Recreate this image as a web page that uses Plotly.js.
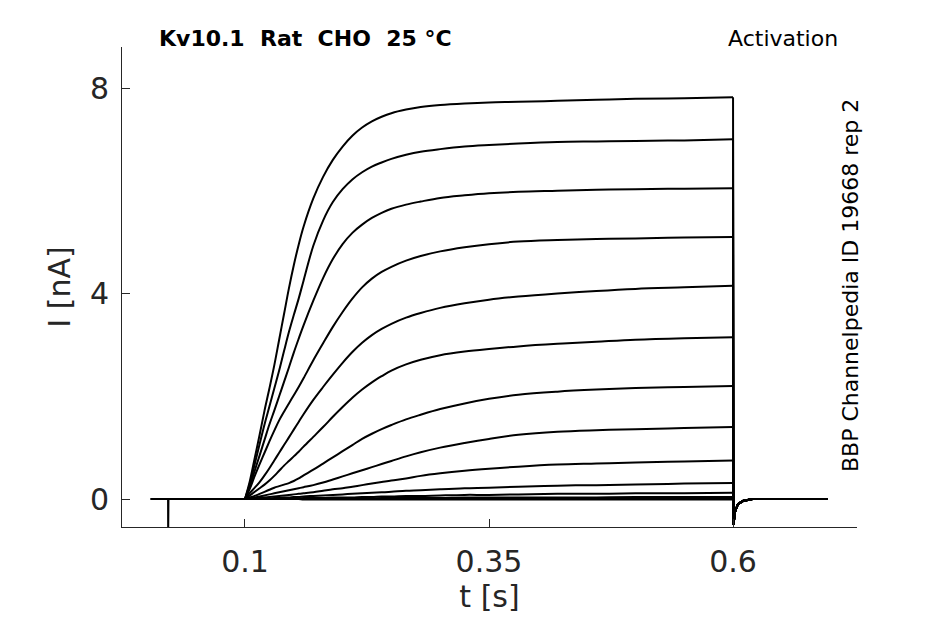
<!DOCTYPE html>
<html>
<head>
<meta charset="utf-8">
<script src="https://cdn.plot.ly/plotly-3.0.1.min.js"></script>
<style>html,body{margin:0;padding:0;background:#fff;}#chart{width:945px;height:624px;}</style>
</head>
<body>
<div id="chart"></div>
<script>
// Time grid of the activation step (s)
var tStep = [0.1, 0.105, 0.11, 0.115, 0.12, 0.125, 0.13, 0.135, 0.14, 0.145, 0.15, 0.155, 0.16, 0.17, 0.18, 0.19, 0.2, 0.21, 0.22, 0.23, 0.24, 0.25, 0.265, 0.28, 0.3, 0.325, 0.35, 0.38, 0.42, 0.46, 0.5, 0.55, 0.6];
// Holding baseline before the step (with capacitive artifact) and tail after
var tPre = [0.003, 0.0212, 0.0213, 0.0216, 0.0995];
var iPre = [0, 0, -0.7, 0, 0];
var tPost = [0.6005, 0.602, 0.605, 0.61, 0.62, 0.697];
var iPost = [-0.5, -0.25, -0.1, -0.04, 0, 0];

// Currents (nA) for each voltage step
var i1 = [0, 0.35, 0.8, 1.25, 1.72, 2.15, 2.6, 3.1, 3.6, 4.1, 4.55, 4.95, 5.3, 5.85, 6.27, 6.6, 6.86, 7.07, 7.23, 7.35, 7.44, 7.51, 7.58, 7.63, 7.67, 7.7, 7.72, 7.73, 7.75, 7.77, 7.79, 7.8, 7.82];
var i2 = [0, 0.3, 0.68, 1.07, 1.45, 1.8, 2.15, 2.5, 2.88, 3.25, 3.58, 3.9, 4.25, 4.93, 5.42, 5.78, 6.03, 6.22, 6.36, 6.47, 6.55, 6.62, 6.7, 6.76, 6.81, 6.86, 6.89, 6.92, 6.95, 6.96, 6.97, 6.98, 7.0];
var i3 = [0, 0.25, 0.55, 0.85, 1.15, 1.45, 1.72, 2.0, 2.28, 2.56, 2.85, 3.12, 3.38, 3.86, 4.3, 4.67, 4.96, 5.18, 5.34, 5.47, 5.57, 5.65, 5.73, 5.79, 5.86, 5.91, 5.95, 5.98, 6.0, 6.02, 6.03, 6.04, 6.05];
var i4 = [0, 0.2, 0.45, 0.68, 0.9, 1.12, 1.33, 1.53, 1.7, 1.86, 2.02, 2.18, 2.35, 2.7, 3.03, 3.35, 3.64, 3.9, 4.12, 4.29, 4.42, 4.52, 4.64, 4.73, 4.82, 4.9, 4.96, 5.01, 5.04, 5.06, 5.07, 5.09, 5.1];
var i5 = [0, 0.12, 0.22, 0.33, 0.46, 0.6, 0.75, 0.9, 1.05, 1.2, 1.35, 1.5, 1.65, 1.93, 2.18, 2.42, 2.65, 2.86, 3.04, 3.19, 3.31, 3.41, 3.53, 3.62, 3.72, 3.81, 3.88, 3.94, 4.0, 4.05, 4.09, 4.12, 4.15];
var i6 = [0, 0.07, 0.14, 0.21, 0.28, 0.36, 0.45, 0.55, 0.65, 0.74, 0.83, 0.92, 1.02, 1.21, 1.4, 1.6, 1.79, 1.97, 2.13, 2.27, 2.39, 2.5, 2.62, 2.71, 2.8, 2.87, 2.92, 2.97, 3.02, 3.06, 3.1, 3.13, 3.15];
var i7 = [0, 0.03, 0.06, 0.1, 0.14, 0.18, 0.22, 0.25, 0.28, 0.31, 0.35, 0.4, 0.46, 0.57, 0.69, 0.81, 0.93, 1.05, 1.17, 1.27, 1.36, 1.44, 1.55, 1.64, 1.75, 1.86, 1.95, 2.03, 2.09, 2.13, 2.16, 2.18, 2.2];
var i8 = [0, 0.01, 0.03, 0.05, 0.07, 0.09, 0.11, 0.13, 0.15, 0.17, 0.19, 0.21, 0.23, 0.27, 0.32, 0.38, 0.44, 0.5, 0.56, 0.62, 0.68, 0.74, 0.83, 0.91, 1.0, 1.09, 1.17, 1.25, 1.31, 1.34, 1.36, 1.38, 1.4];
var i9 = [0, 0, 0.01, 0.02, 0.03, 0.04, 0.05, 0.06, 0.07, 0.08, 0.09, 0.1, 0.11, 0.13, 0.16, 0.19, 0.21, 0.24, 0.27, 0.3, 0.33, 0.36, 0.4, 0.45, 0.5, 0.55, 0.59, 0.63, 0.67, 0.69, 0.71, 0.73, 0.75];
var i10 = [0, 0, 0, 0.01, 0.01, 0.01, 0.02, 0.02, 0.03, 0.03, 0.04, 0.04, 0.05, 0.06, 0.07, 0.08, 0.09, 0.1, 0.11, 0.12, 0.13, 0.14, 0.16, 0.17, 0.19, 0.21, 0.22, 0.24, 0.26, 0.27, 0.28, 0.3, 0.31];
var i11 = [0, 0, 0, 0, 0, 0, 0, 0.01, 0.01, 0.01, 0.01, 0.01, 0.02, 0.02, 0.02, 0.03, 0.03, 0.03, 0.04, 0.04, 0.05, 0.05, 0.06, 0.06, 0.07, 0.08, 0.08, 0.09, 0.1, 0.1, 0.11, 0.11, 0.12];
var i12 = [0, 0, 0, 0, 0, 0, 0, 0, 0, 0, 0, 0, 0, 0, 0.01, 0.01, 0.01, 0.01, 0.01, 0.01, 0.02, 0.02, 0.02, 0.02, 0.02, 0.03, 0.03, 0.03, 0.03, 0.03, 0.04, 0.04, 0.04];
var i13 = [0, 0, 0, 0, 0, 0, 0, 0, 0, 0, 0, 0, 0, 0, 0, 0, 0, 0, 0, 0, 0, 0, 0, 0, 0, 0, 0, 0, 0, 0, 0, 0, 0];
var i14 = [0, 0, 0, 0, 0, 0, 0, 0, 0, 0, 0, 0, -0.01, -0.01, -0.01, -0.01, -0.01, -0.01, -0.01, -0.01, -0.01, -0.01, -0.01, -0.01, -0.01, -0.01, -0.01, -0.01, -0.01, -0.01, -0.01, -0.01, -0.01];

var xTickVals = [0.1, 0.35, 0.6];
var xTickText = ['0.1', '0.35', '0.6'];
var yTickVals = [0, 4, 8];
var yTickText = ['0', '4', '8'];

var sweeps = [i14, i13, i12, i11, i10, i9, i8, i7, i6, i5, i4, i3, i2, i1];
var lineStyle = {color: '#000000', width: 2};
var traces = [];
// baseline before the step
traces.push({
  type: 'scatter', mode: 'lines',
  x: tPre.concat([tStep[0]]), y: iPre.concat([i1[0]]),
  line: lineStyle, hoverinfo: 'skip'
});
sweeps.forEach(function (cur) {
  // activation phase (smoothed through the read points)
  traces.push({
    type: 'scatter', mode: 'lines',
    x: tStep, y: cur,
    line: {color: '#000000', width: 2, shape: 'spline', smoothing: 1.0},
    hoverinfo: 'skip'
  });
  // return to holding potential
  traces.push({
    type: 'scatter', mode: 'lines',
    x: [tStep[tStep.length - 1]].concat(tPost),
    y: [cur[cur.length - 1]].concat(iPost),
    line: lineStyle, hoverinfo: 'skip'
  });
});

var axisColor = '#262626';
var layout = {
  width: 945,
  height: 624,
  margin: {l: 122, r: 88, t: 47, b: 97},
  paper_bgcolor: '#ffffff',
  plot_bgcolor: '#ffffff',
  showlegend: false,
  font: {family: 'DejaVu Sans', color: axisColor},
  xaxis: {
    range: [-0.026, 0.727],
    tickvals: xTickVals,
    ticktext: xTickText,
    ticks: 'inside',
    ticklen: 8,
    tickwidth: 1,
    tickcolor: axisColor,
    showline: true,
    linecolor: axisColor,
    linewidth: 1,
    showgrid: false,
    zeroline: false,
    tickfont: {size: 30, color: axisColor},
    ticklabelstandoff: 8,
    title: {text: 't [s]', font: {size: 30, color: axisColor}, standoff: 6}
  },
  yaxis: {
    range: [-0.545, 8.798],
    tickvals: yTickVals,
    ticktext: yTickText,
    ticks: 'inside',
    ticklen: 8,
    tickwidth: 1,
    tickcolor: axisColor,
    showline: true,
    linecolor: axisColor,
    linewidth: 1,
    showgrid: false,
    zeroline: false,
    tickfont: {size: 30, color: axisColor},
    ticklabelstandoff: 6,
    title: {text: 'I [nA]', font: {size: 30, color: axisColor}, standoff: 10}
  },
  annotations: [
    {text: '<b>Kv10.1\u00a0\u00a0Rat\u00a0\u00a0CHO\u00a0\u00a025\u00a0°C</b>', xref: 'paper', yref: 'paper',
     x: 0.047, y: 1.0167, xanchor: 'left', yanchor: 'middle', showarrow: false,
     font: {size: 22, color: '#000000', family: 'DejaVu Sans'}},
    {text: 'Activation', xref: 'paper', yref: 'paper',
     x: 0.977, y: 1.0167, xanchor: 'right', yanchor: 'middle', showarrow: false,
     font: {size: 22, color: '#000000', family: 'DejaVu Sans'}},
    {text: 'BBP Channelpedia ID 19668 rep 2', xref: 'paper', yref: 'paper',
     x: 0.9905, y: 0.502, xanchor: 'center', yanchor: 'middle', textangle: -90, showarrow: false,
     font: {size: 22, color: '#000000', family: 'DejaVu Sans'}}
  ]
};

Plotly.newPlot('chart', traces, layout, {staticPlot: true, displayModeBar: false});
</script>
</body>
</html>
